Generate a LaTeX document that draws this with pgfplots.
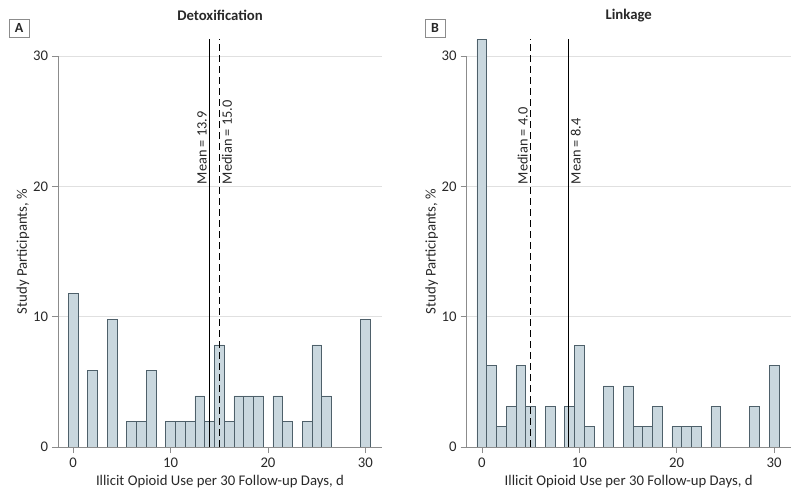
\documentclass[border=0pt]{standalone}
\usepackage{fontspec}
\setmainfont{Carlito}
\usepackage{pgfplots}
\usepackage{pgfplotstable}
\pgfplotsset{compat=1.18}
\definecolor{barfill}{RGB}{201,215,222}
\definecolor{baredge}{RGB}{78,96,106}
\definecolor{axgray}{RGB}{140,140,140}
\definecolor{gridgray}{RGB}{224,224,224}
\definecolor{txt}{RGB}{40,40,40}

\pgfplotstableread{
x y
0 11.76
2 5.88
4 9.80
6 1.96
7 1.96
8 5.88
10 1.96
11 1.96
12 1.96
13 3.92
14 1.96
15 7.84
16 1.96
17 3.92
18 3.92
19 3.92
21 3.92
22 1.96
24 1.96
25 7.84
26 3.92
30 9.80
}\detox

\pgfplotstableread{
x y
0 31.25
1 6.25
2 1.5625
3 3.125
4 6.25
5 3.125
7 3.125
9 3.125
10 7.8125
11 1.5625
13 4.6875
15 4.6875
16 1.5625
17 1.5625
18 3.125
20 1.5625
21 1.5625
22 1.5625
24 3.125
28 3.125
30 6.25
}\linkage

\pgfplotsset{
  panel/.style={
    scale only axis,
    width=324bp, height=408bp,
    xmin=-1.55, xmax=31.7,
    ymin=0, ymax=31.3,
    xtick={0,10,20,30}, ytick={0,10,20,30},
    xtick pos=bottom, ytick pos=left,
    tick align=outside,
    major tick length=6bp,
    tick style={axgray, line width=0.6bp},
    axis line style={draw=none},
    ymajorgrids, grid style={gridgray, line width=0.6bp},
    tick label style={font=\fontsize{14.8}{17}\selectfont, text=txt},
    /pgf/number format/assume math mode=true,
    xticklabel style={yshift=-1bp},
    yticklabel style={xshift=-0.5bp},
    label style={font=\fontsize{14.8}{17}\selectfont, text=txt},
    xlabel={Illicit Opioid Use per 30 Follow-up Days, d},
    ylabel={Study Participants, \%},
    xlabel style={at={(axis description cs:0.5,-0.0858)}, anchor=center},
    ylabel style={at={(axis description cs:-0.108,0.479)}, anchor=center},
    title style={font=\fontsize{14.8}{17}\selectfont\bfseries, text=txt, at={(axis description cs:0.5,1.043)}, anchor=center},
    clip=false,
  },
  bars/.style={ybar, bar width=1, bar shift=0pt, fill=barfill, draw=baredge, line width=0.6bp},
}
\tikzset{lbl/.style={font=\fontsize{14.4}{17}\selectfont, text=txt, rotate=90, inner sep=2bp}}

\begin{document}
\begin{tikzpicture}
\useasboundingbox (0,0) rectangle (800bp,494bp);

% Panel A
\begin{axis}[panel, at={(58bp,47bp)}, anchor=south west, title={Detoxification}]
  \addplot[bars] table[x=x,y=y] {\detox};
  \draw[axgray, line width=0.8bp] (axis cs:-1.55,0) -- (axis cs:31.7,0);
  \draw[axgray, line width=0.8bp] (axis cs:-1.55,0) -- (axis cs:-1.55,30);
  \addplot[black, line width=0.7bp] coordinates {(13.95,0) (13.95,31.3)};
  \addplot[black, line width=0.7bp, dash pattern=on 7bp off 4bp] coordinates {(15.05,0) (15.05,31.3)};
  \node[lbl, anchor=south west] at (axis cs:13.95,20) {Mean = 13.9};
  \node[lbl, anchor=north west] at (axis cs:15.05,20) {Median = 15.0};
\end{axis}

% Panel B
\begin{axis}[panel, at={(466.7bp,47bp)}, anchor=south west, title={Linkage}]
  \addplot[bars] table[x=x,y=y] {\linkage};
  \draw[axgray, line width=0.8bp] (axis cs:-1.55,0) -- (axis cs:31.7,0);
  \draw[axgray, line width=0.8bp] (axis cs:-1.55,0) -- (axis cs:-1.55,30);
  \addplot[black, line width=0.7bp] coordinates {(8.9,0) (8.9,31.3)};
  \addplot[black, line width=0.7bp, dash pattern=on 7bp off 4bp] coordinates {(4.95,0) (4.95,31.3)};
  \node[lbl, anchor=south west] at (axis cs:4.95,20) {Median = 4.0};
  \node[lbl, anchor=north west] at (axis cs:8.9,20) {Mean = 8.4};
\end{axis}

% Panel letters
\node[draw=axgray, line width=0.6bp, minimum width=20bp, minimum height=18bp, inner sep=0pt, font=\fontsize{14}{16}\selectfont\bfseries, text=txt] at (19bp,466bp) {A};
\node[draw=axgray, line width=0.6bp, minimum width=20bp, minimum height=18bp, inner sep=0pt, font=\fontsize{14}{16}\selectfont\bfseries, text=txt] at (435bp,466bp) {B};
\end{tikzpicture}
\end{document}
